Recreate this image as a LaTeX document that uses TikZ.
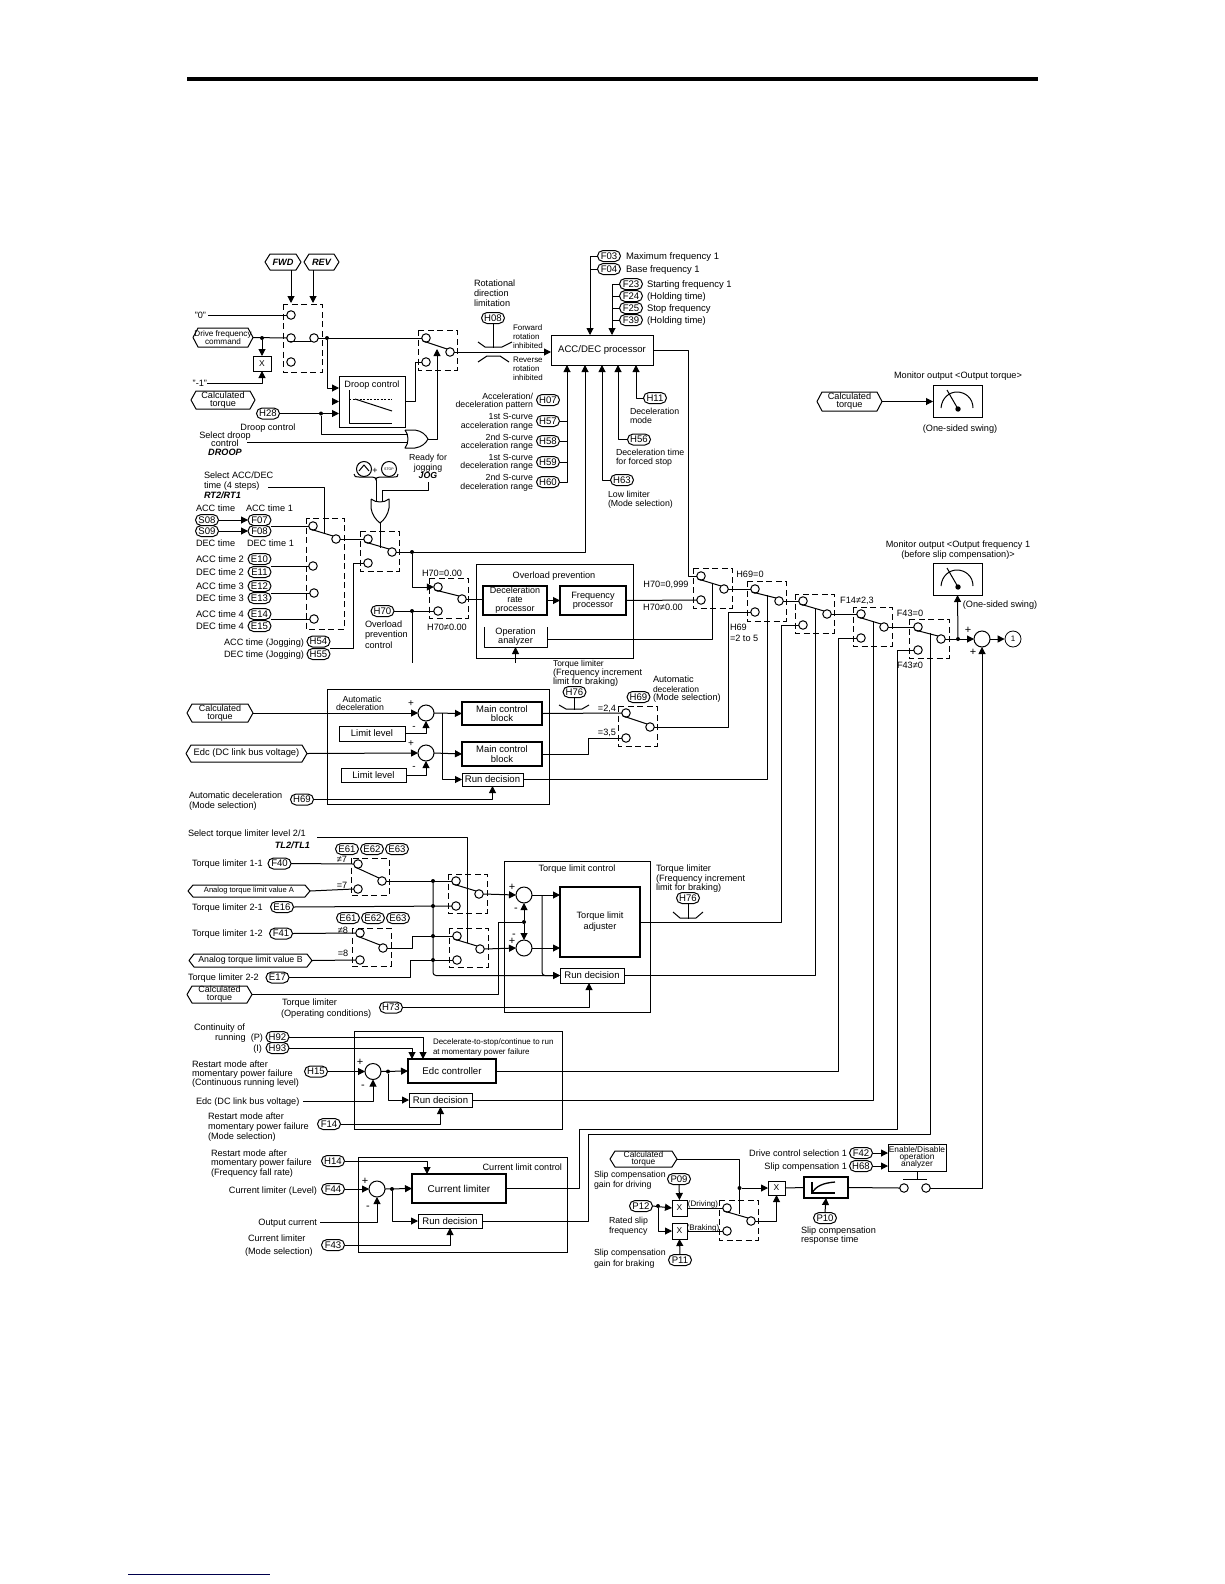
\documentclass[tikz,border=0pt]{standalone}
\usepackage{fontspec}
\setmainfont{Liberation Sans}
\usetikzlibrary{arrows.meta,calc,shapes.misc}
\newcounter{tcnt}
\newcommand\fs[1]{\fontsize{#1}{#1}\selectfont\setlength\baselineskip{1.1\baselineskip}}
\tikzset{x=1bp,y=-1bp,
 conn/.style={line width=1bp,line join=round},
 arr/.style={conn,-{Triangle[length=7bp,width=7bp]}},
 dbox/.style={line width=1bp,dash pattern=on 6bp off 3.5bp},
 lab/.style={inner sep=0pt,outer sep=0pt,text height=6.6bp,text depth=0pt},
 term/.style={circle,draw,fill=white,minimum size=8.5bp,inner sep=0pt,outer sep=0pt,line width=1bp},
 sumc/.style={circle,draw,fill=white,minimum size=16bp,inner sep=0pt,outer sep=0pt,line width=1bp},
 oval/.style={rounded rectangle,draw,fill=white,minimum width=23bp,minimum height=11bp,inner sep=0pt,outer sep=0pt,line width=1bp,font=\fs{9.6}},
 blk/.style={draw,fill=white,inner sep=0pt,outer sep=0pt,line width=1bp,align=center},
 blkb/.style={blk,line width=2bp},
 plainb/.style={inner sep=0pt,outer sep=0pt,align=center},
 frame/.style={draw,line width=1bp,inner sep=0pt,outer sep=0pt},
 dotn/.style={circle,fill=black,minimum size=4bp,inner sep=0pt,outer sep=0pt},
}
\newcommand\Tl[4][9.2]{\stepcounter{tcnt}\node[lab,anchor=west] (tx\arabic{tcnt}) at (#2,#3) {\fs{#1}#4};}
\newcommand\Tr[4][9.2]{\stepcounter{tcnt}\node[lab,anchor=east] (tx\arabic{tcnt}) at (#2,#3) {\fs{#1}#4};}
\newcommand\Tc[4][9.2]{\stepcounter{tcnt}\node[lab,anchor=center] (tx\arabic{tcnt}) at (#2,#3) {\fs{#1}#4};}
\newcommand\Ov[4]{\node[oval] (#1) at (#2,#3) {#4};}
\newcommand\Tm[3]{\node[term] (#1) at (#2,#3) {};}
\newcommand\Dt[3]{\node[dotn] (#1) at (#2,#3) {};}
\newcommand\Bx[7]{\node[#1,minimum width={(#5-#3)*1bp},minimum height={(#6-#4)*1bp}] (#2) at ({(#3+#5)/2},{(#4+#6)/2}) {#7};}
\newcommand\Hx[7]{\node[plainb,font=\fs{#6},minimum width={(#4-#2)*1bp},minimum height={(#5-#3)*1bp}] (#1) at ({(#2+#4)/2},{(#3+#5)/2}) {#7};
 \draw[conn] (#1.west) -- ($(#1.north west)+(5,0)$) -- ($(#1.north east)+(-5,0)$) -- (#1.east) -- ($(#1.south east)+(-5,0)$) -- ($(#1.south west)+(5,0)$) -- cycle;}
\newcommand\Arm[2]{\draw[conn] (#1.south west) -- (#2.north west);}
\newcommand\Mtr[2]{% box top-left offset
 \draw[conn,shift={(#1,#2)}] (8,23) .. controls (9,12) and (17,7) .. (24,7) .. controls (32,7) and (40,13) .. (40,23);
 \draw[conn,shift={(#1,#2)}] (14,5) -- (25,24);
 \fill[shift={(#1,#2)}] (25,24) circle (2.7);}
\begin{document}
\begin{tikzpicture}
\useasboundingbox (0,0) rectangle (1224,1584);
\fill[white] (0,0) rectangle (1224,1584);
\draw[line width=3.5bp] (187,79) -- (1038,79);
\draw[line width=0.8bp,color=black!70!blue] (128,1574) -- (270,1574);

%%%% top-left input section
\Hx{fwd}{265}{254}{301}{270}{9.2}{\bfseries\itshape FWD}
\Hx{rev}{304}{254}{339}{270}{9.2}{\bfseries\itshape REV}
\draw[dbox] (283,304) rectangle (322,372);
\Tm{a0}{291}{315}\Tm{a1}{291}{338}\Tm{a2}{291}{362}\Tm{aout}{314}{338}
\draw[arr] ([xshift=8bp]fwd.south) -- ++(0,33);
\draw[arr] ([xshift=-8.5bp]rev.south) -- ++(0,33);
\node[lab,anchor=east] (lz) at (206,315) {\fs{9.2}"0"};
\draw[conn] (lz.east) ++(2,0) -- (a0.west);
\Hx{drv}{193}{328}{253}{347}{8.2}{Drive frequency\\[-1pt]command}
\Dt{dA}{262}{338}
\draw[conn] (drv.east) -- (a1.west);
\draw[conn] (a1.south west) -- (aout.south west);
\Bx{blk,font=\fs{8.5}}{xA}{253}{356}{271}{371}{X}
\draw[arr] (dA) -- (xA.north);
\node[lab,anchor=east] (lm) at (207,383) {\fs{9.2}"-1"};
\draw[arr] (lm.east) -| (xA.south);
\Hx{cta}{191}{391}{255}{409}{9.2}{Calculated\\[-2pt]torque}
\Dt{dB}{327}{338}
\draw[dbox] (418,330) rectangle (457,370);
\Tm{b0}{426}{338}\Tm{b1}{426}{362}\Tm{bout}{450}{352}
\draw[conn] (aout.east) -- (b0.west);
\Arm{b0}{bout}
\Bx{blk}{droop}{339}{376}{405}{427}{}
\Tc[9.2]{372}{384}{Droop control}
\draw[conn] (349,390) -- (349,423) -- (392,423);
\draw[conn,dash pattern=on 2bp off 1.5bp] (349,399) -- (392,399);
\draw[conn] (355,399) -- (392,411);
\draw[arr] (dB) |- ([yshift=13.5bp]droop.west);
\draw[arr] ([xshift=-6bp]droop.west) -- (droop.west);
\Ov{ovHb}{268}{413.5}{H28}
\Dt{dH}{321}{413.5}
\draw[arr] (ovHb.east) -- (droop.west |- ovHb);
\Tc{268}{427}{Droop control}
\Tc{225}{435}{Select droop}
\Tc{225}{443}{control}
\Tc{225}{452}{\bfseries\itshape DROOP}
\coordinate (orA) at (408,434);
\coordinate (orB) at (408,442);
\coordinate (orOut) at (428,439);
\coordinate (armB) at (437,349);
\coordinate (selD) at (247,442);
\draw[conn] (dH) |- (orA);
\draw[conn] (selD) -- (orB);
\draw[conn,fill=white] (405,430) -- (415,430) .. controls (422,431) and (426,435) .. (orOut) .. controls (426,443) and (422,447) .. (415,448) -- (405,448) .. controls (409,443) and (409,435) .. (405,430);
\draw[arr] (orOut) -| (armB);
\draw[conn] (droop.east) -- ++(10,0) |- (b1.west);

%%%% H08 and ACC/DEC processor
\Tl{474}{283}{Rotational}
\Tl{474}{293}{direction}
\Tl{474}{303}{limitation}
\Ov{ovHa}{493}{318}{H08}
\Bx{blk,font=\fs{9.6}}{acc}{551}{335}{653}{365}{ACC/DEC processor}
\draw[arr] (bout.east) -- (acc.west |- bout);
\draw[conn] (ovHa.south) -- ++(0,24);
\draw[conn] (478,342) -- (485,347) -- (502,347) -- (512,342);
\draw[conn] (478,362) -- (487,356) -- (500,356) -- (509,362);
\Tl[8]{513}{327}{Forward}
\Tl[8]{513}{336}{rotation}
\Tl[8]{513}{345}{inhibited}
\Tl[8]{513}{359}{Reverse}
\Tl[8]{513}{368}{rotation}
\Tl[8]{513}{377}{inhibited}
\Ov{ovFa}{609}{256}{F03}\Ov{ovFb}{609}{269}{F04}
\Tl[9.5]{626}{256}{Maximum frequency 1}
\Tl[9.5]{626}{269}{Base frequency 1}
\Ov{ovFc}{631}{284}{F23}\Ov{ovFd}{631}{296}{F24}\Ov{ovFe}{631}{308}{F25}\Ov{ovFf}{631}{320}{F39}
\Tl[9.5]{647}{284}{Starting frequency 1}
\Tl[9.5]{647}{296}{(Holding time)}
\Tl[9.5]{647}{308}{Stop frequency}
\Tl[9.5]{647}{320}{(Holding time)}
\coordinate (accTa) at (590,335);
\coordinate (accTb) at (612,335);
\draw[arr] (ovFa.west) -| (accTa);
\draw[conn] (ovFb.west) -- (ovFb.west -| accTa);
\draw[arr] (ovFc.west) -| (accTb);
\draw[conn] (ovFd.west) -- (ovFd.west -| accTb);
\draw[conn] (ovFe.west) -- (ovFe.west -| accTb);
\draw[conn] (ovFf.west) -- (ovFf.west -| accTb);
\coordinate (accBa) at (567,365);
\coordinate (accBb) at (585,365);
\coordinate (accBc) at (602,365);
\coordinate (accBd) at (618,365);
\coordinate (accBe) at (636,365);
\Ov{ovHg}{548}{400}{H07}\Ov{ovHh}{548}{421}{H57}\Ov{ovHi}{548}{441}{H58}\Ov{ovHj}{548}{462}{H59}\Ov{ovHk}{548}{482}{H60}
\Tr[8.8]{533}{396}{Acceleration/}
\Tr[8.8]{533}{404}{deceleration pattern}
\Tr[8.8]{533}{416}{1st S-curve}
\Tr[8.8]{533}{425}{acceleration range}
\Tr[8.8]{533}{437}{2nd S-curve}
\Tr[8.8]{533}{445}{acceleration range}
\Tr[8.8]{533}{457}{1st S-curve}
\Tr[8.8]{533}{465}{deceleration range}
\Tr[8.8]{533}{477}{2nd S-curve}
\Tr[8.8]{533}{486}{deceleration range}
\draw[arr] (ovHk.east) -| (accBa);
\draw[conn] (ovHh.east) -- (ovHh.east -| accBa);
\draw[conn] (ovHi.east) -- (ovHi.east -| accBa);
\draw[conn] (ovHj.east) -- (ovHj.east -| accBa);
\Ov{ovHl}{622}{480}{H63}
\draw[arr] (ovHl.west) -| (accBc);
\Tl[8.8]{608}{494}{Low limiter}
\Tl[8.8]{608}{503}{(Mode selection)}
\Ov{ovHm}{639}{439.5}{H56}
\draw[arr] (ovHm.west) -| (accBd);
\Tl[8.8]{616}{452}{Deceleration time}
\Tl[8.8]{616}{461}{for forced stop}
\Ov{ovHn}{655}{398}{H11}
\draw[arr] (ovHn.west) -| (accBe);
\Tl[8.8]{630}{411}{Deceleration}
\Tl[8.8]{630}{420}{mode}

%%%% monitor torque
\Hx{ctm}{817}{392}{882}{411}{9.2}{Calculated\\[-2pt]torque}
\Bx{blk}{mta}{933}{385}{982}{417}{}
\Mtr{933}{385}
\draw[arr] (ctm.east) -- (mta.west |- ctm);
\Tc{958}{375}{Monitor output <Output torque>}
\Tc{960}{428}{(One-sided swing)}

%%%% jog gate
\node[circle,draw,line width=1bp,minimum size=15bp,inner sep=0pt] (kup) at (364,469) {};
\draw[conn] (359,471) -- (364,465) -- (369,471);
\Tc[9]{375}{470}{+}
\node[circle,draw,line width=1bp,minimum size=15bp,inner sep=0pt,font=\fs{3.6}] (kst) at (389,469) {STOP};
\draw[conn] (354,474) .. controls (354,477) and (356,477) .. (359,477) -- (372,477) .. controls (375,477) and (376,478) .. (376,480) .. controls (376,478) and (377,477) .. (380,477) -- (394,477) .. controls (397,477) and (398,477) .. (398,474);
\Tc[8.8]{428}{457}{Ready for}
\Tc[8.8]{428}{467}{jogging}
\Tc[8.8]{428}{475}{\bfseries\itshape JOG}
\coordinate (brP) at (376,480);
\coordinate (brQ) at (376,502);
\coordinate (jgA) at (428,482);
\coordinate (jgB) at (382,490);
\coordinate (jgC) at (382,502);
\coordinate (gOut) at (380,523);
\draw[conn] (brP) -- (brQ);
\draw[conn] (jgA) |- (jgB) -- (jgC);
\draw[conn,fill=white] (371,499) -- (371,508) .. controls (372,515) and (376,520) .. (gOut) .. controls (384,520) and (388,515) .. (389,508) -- (389,499) .. controls (384,503) and (376,503) .. (371,499);

%%%% ACC time selector
\Tl{204}{475}{Select ACC/DEC}
\Tl{204}{485}{time (4 steps)}
\Tl{204}{495}{\bfseries\itshape RT2/RT1}
\Tl{196}{508}{ACC time}
\Tl{246}{508}{ACC time 1}
\Ov{ovSa}{207}{520}{S08}\Ov{ovSb}{207}{531}{S09}
\Ov{ovEa}{259.5}{520}{F07}\Ov{ovEb}{259.5}{531}{F08}
\draw[arr] (ovSa.east) -- (ovEa.west);
\draw[arr] (ovSb.east) -- (ovEb.west);
\Tl{196}{543}{DEC time}
\Tl{247}{543}{DEC time 1}
\Tl[9.4]{196}{559}{ACC time 2}\Ov{ovEc}{259.5}{559}{E10}
\Tl[9.4]{196}{572}{DEC time 2}\Ov{ovEd}{259.5}{572}{E11}
\Tl[9.4]{196}{586}{ACC time 3}\Ov{ovEe}{259.5}{586}{E12}
\Tl[9.4]{196}{598}{DEC time 3}\Ov{ovEf}{259.5}{598}{E13}
\Tl[9.4]{196}{614}{ACC time 4}\Ov{ovEg}{259.5}{614}{E14}
\Tl[9.4]{196}{626}{DEC time 4}\Ov{ovEh}{259.5}{626}{E15}
\draw[dbox] (306,518) rectangle (344,629);
\Tm{d0}{313}{526}\Tm{d1}{313}{566}\Tm{d2}{314}{593}\Tm{d3}{314}{619}\Tm{dout}{336}{539}
\coordinate (lnA) at (271,526);
\coordinate (lnB) at (271,566);
\coordinate (lnC) at (271,593);
\coordinate (lnD) at (271,619);
\draw[conn] (lnA) -- (d0.west);
\draw[conn] (lnB) -- (d1.west);
\draw[conn] (lnC) -- (d2.west);
\draw[conn] (lnD) -- (d3.west);
\Arm{d0}{dout}
\coordinate (selR) at (268,487);
\coordinate (armD) at (324,533);
\draw[conn] (selR) -| (armD);
\draw[dbox] (360,531) rectangle (399,571);
\Tm{j0}{368}{539}\Tm{j1}{368}{563}\Tm{jout}{392}{552}
\draw[conn] (dout.east) -- (j0.west);
\Arm{j0}{jout}
\coordinate (armJ) at (380,548);
\draw[conn] (gOut) -- (armJ);
\Tr{304}{642}{ACC time (Jogging)}\Ov{ovJa}{318.5}{641.5}{H54}
\Tr{304}{654}{DEC time (Jogging)}\Ov{ovJb}{318.5}{654}{H55}
\coordinate (jgL) at (330,648);
\draw[conn] (jgL) -- (353,648) |- (j1.west);
\Dt{dJ}{412}{552}
\draw[arr] (jout.east) -| (accBb);
\draw[dbox] (429,578) rectangle (468,618);
\Tm{h0}{438}{587}\Tm{h1}{438}{611}\Tm{hout}{462}{599}
\draw[arr] (dJ) |- (h0.west);
\Arm{h0}{hout}
\Tc{442}{573}{H70=0.00}
\Tc{447}{627}{H70≠0.00}
\Ov{ovHo}{382.5}{611}{H70}
\Dt{dHo}{412}{611}
\draw[conn] (ovHo.east) -- (h1.west);
\coordinate (hoE) at (412,663);
\draw[conn] (dHo) -- (hoE);
\Tl{365}{624}{Overload}
\Tl{365}{634}{prevention}
\Tl{365}{645}{control}

%%%% overload prevention
\Bx{frame}{olp}{476}{564}{633}{658}{}
\Tc{554}{575}{Overload prevention}
\Bx{blkb,font=\fs{9}}{dec}{483}{586}{547}{615}{Deceleration\\[-1pt]rate\\[-1pt]processor}
\Bx{blkb,font=\fs{9.2}}{frq}{560}{586}{626}{615}{Frequency\\[-1pt]processor}
\draw[arr] (dec.east) -- (frq.west);
\draw[conn] (hout.east) -- (dec.west |- hout);
\Bx{plainb,font=\fs{9.2}}{ana}{484}{627}{547}{647}{Operation\\[-1pt]analyzer}
\draw[conn] (ana.north west) -- (ana.south west) -- (ana.south east) -- (ana.north east);
\coordinate (anaI) at (515.5,663);
\draw[arr] (anaI) -- (ana.south);
\draw[dbox] (693,568) rectangle (732,608);
\Tm{c0}{701}{576}\Tm{c1}{701}{600}\Tm{cout}{724}{589}
\draw[conn] (acc.east) -- ++(35,0) |- (c0.west);
\draw[conn] (frq.east) -- (c1.west);
\Arm{c0}{cout}
\coordinate (armC) at (712,583);
\draw[conn] ([yshift=-2bp]ana.east) -| (armC);
\Tc{666}{584}{H70=0,999}
\Tc{663}{607}{H70≠0.00}

%%%% downstream switches
\draw[dbox] (747,581) rectangle (786,621);
\Tm{e0}{755}{589}\Tm{e1}{755}{612}\Tm{eout}{779}{601}
\draw[conn] (cout.east) -- (e0.west);
\Arm{e0}{eout}
\Tc{750}{574}{H69=0}
\Tl{730}{627}{H69}
\Tl{730}{638}{=2 to 5}
\draw[dbox] (795,594) rectangle (834,633);
\Tm{f0}{803}{601}\Tm{f1}{803}{625}\Tm{fout}{827}{614}
\draw[conn] (eout.east) -- (f0.west);
\Arm{f0}{fout}
\draw[dbox] (853,607) rectangle (892,646);
\Tm{g0}{861}{614}\Tm{g1}{861}{638}\Tm{gout}{884}{627}
\draw[conn] (fout.east) -- (g0.west);
\Arm{g0}{gout}
\Tc{857}{600}{F14≠2,3}
\draw[dbox] (909,619) rectangle (949,658);
\Tm{k0}{918}{627}\Tm{k1}{918}{650}\Tm{kout}{941}{639}
\draw[conn] (gout.east) -- (k0.west);
\Arm{k0}{kout}
\Tc{910}{613}{F43=0}
\Tc{910}{665}{F43≠0}
\node[sumc] (sm) at (982,639) {};
\node[circle,draw,line width=.8bp,minimum size=16bp,inner sep=0pt,font=\fs{8}] (oneC) at (1013,639) {1};
\Dt{dK}{958}{639}
\draw[arr] (kout.east) -- (sm.west);
\draw[arr] (sm.east) -- (oneC.west);
\Tc[11]{968}{630}{+}
\Tc[11]{973}{652}{+}
\Bx{blk}{mtb}{933}{563}{982}{595}{}
\Mtr{933}{563}
\draw[arr] (dK) -- (mtb.south);
\Tc{958}{544}{Monitor output <Output frequency 1}
\Tc{958}{554}{(before slip compensation)>}
\Tc{1000}{604}{(One-sided swing)}

%%%% automatic deceleration
\Bx{frame}{adc}{327}{689}{549}{804}{}
\Hx{cts}{187}{704}{253}{722}{9}{Calculated\\[-2pt]torque}
\Hx{edcA}{186}{745}{307}{762}{9.4}{Edc (DC link bus voltage)}
\Tc[8.8]{362}{699}{Automatic}
\Tc[8.8]{360}{707}{deceleration}
\node[sumc] (sa) at (426,713) {};
\node[sumc] (sb) at (426,753) {};
\Tc[10]{411}{703}{+}\Tc[10]{414}{726}{-}\Tc[10]{411}{743}{+}\Tc[10]{414}{766}{-}
\Bx{blk,font=\fs{9.5}}{lma}{339}{726}{405}{741}{Limit level}
\Bx{blk,font=\fs{9.5}}{lmb}{341}{768}{406}{782}{Limit level}
\draw[arr] (cts.east) -- (sa.west);
\draw[arr] (edcA.east) -- (sb.west);
\draw[arr] (lma.east) -| (sa.south);
\draw[arr] (lmb.east) -| (sb.south);
\Bx{blkb,font=\fs{9.5}}{mca}{462}{702}{542}{725}{Main control\\[-1pt]block}
\Bx{blkb,font=\fs{9.5}}{mcb}{462}{742}{542}{766}{Main control\\[-1pt]block}
\Bx{blk,font=\fs{9.6}}{rda}{462}{773}{523}{786}{Run decision}
\draw[arr] (sa.east) -- (mca.west);
\draw[arr] (sb.east) -- (mcb.west);
\coordinate (jA) at (442,713);
\draw[arr] (jA) |- (rda.west);
\Tl{189}{795}{Automatic deceleration}
\Tl{189}{805}{(Mode selection)}
\Ov{ovHp}{302}{799.5}{H69}
\draw[arr] (ovHp.east) -| (rda.south);
\draw[dbox] (618,706) rectangle (657,746);
\Tm{m0}{626}{713}\Tm{m1}{626}{738}\Tm{mout}{650}{727}
\draw[conn] (mca.east) -- (m0.west);
\draw[conn] (mcb.east) -- ++(46,0) |- (m1.west);
\Arm{m0}{mout}
\draw[conn] (mout.east) -- ++(74,0) |- (e1.west);
\coordinate (armE) at (767,595);
\draw[conn] (rda.east) -| (armE);
\Tl[8.5]{553}{663}{Torque limiter}
\Tl{553}{672}{(Frequency increment}
\Tl{553}{681}{limit for braking)}
\Ov{ovHq}{574.5}{692}{H76}
\draw[conn] (ovHq.south) -- ++(0,12);
\draw[conn] (559,705) -- (566,709) -- (582,709) -- (589,705);
\Tl{653}{679}{Automatic}
\Tl[8.5]{653}{689}{deceleration}
\Tl{653}{697}{(Mode selection)}
\Ov{ovHr}{638.5}{697}{H69}
\Tc{607}{708}{=2,4}
\Tc{607}{732}{=3,5}

%%%% torque limit
\node[lab,anchor=west] (slT) at (188,833) {\fs{9.2}Select torque limiter level 2/1};
\Tr{310}{845}{\bfseries\itshape TL2/TL1}
\Ov{ovTa}{347}{849}{E61}\Ov{ovTb}{372}{849}{E62}\Ov{ovTc}{397}{849}{E63}
\Ov{ovTd}{348}{918}{E61}\Ov{ovTe}{373}{918}{E62}\Ov{ovTf}{398}{918}{E63}
\Tl{192}{863}{Torque limiter 1-1}\Ov{ovGa}{279.5}{863.5}{F40}
\Tl{192}{907}{Torque limiter 2-1}\Ov{ovGb}{282}{907}{E16}
\Tl{192}{933}{Torque limiter 1-2}\Ov{ovGc}{281}{933.5}{F41}
\Tl{188}{977}{Torque limiter 2-2}\Ov{ovGd}{277.5}{977.5}{E17}
\Hx{hxA}{188}{885}{310}{897}{7.6}{Analog torque limit value A}
\Hx{hxB}{189}{954}{312}{967}{8.8}{Analog torque limit value B}
\Hx{hxC}{187}{986}{252}{1003}{9}{Calculated\\[-2pt]torque}
\draw[dbox] (351,858) rectangle (389,895);
\Tm{n0}{358}{864}\Tm{n1}{358}{889}\Tm{nout}{382}{881}
\draw[conn] (ovGa.east) -- (n0.west);
\draw[conn] (hxA.east) -- (n1.west);
\Arm{n0}{nout}
\Tc{342}{859}{≠7}\Tc{342}{885}{=7}
\draw[dbox] (352,928) rectangle (391,966);
\Tm{p0}{360}{933}\Tm{p1}{360}{960}\Tm{pout}{383}{948}
\draw[conn] (ovGc.east) -- (p0.west);
\draw[conn] (hxB.east) -- (p1.west);
\Arm{p0}{pout}
\Tc{343}{930}{≠8}\Tc{343}{953}{=8}
\draw[dbox] (448,874) rectangle (487,913);
\Tm{q0}{456}{881}\Tm{q1}{456}{906}\Tm{qout}{479}{894}
\draw[dbox] (449,928) rectangle (488,967);
\Tm{r0}{457}{936}\Tm{r1}{457}{960}\Tm{rout}{480}{949}
\Arm{q0}{qout}
\Arm{r0}{rout}
\draw[conn] (nout.east) -- (q0.west);
\draw[conn] (ovGb.east) -- (q1.west);
\draw[conn] (pout.east) -- ++(25,0) |- (r0.west);
\draw[conn] (ovGd.east) -- ++(121,0) |- (r1.west);
\coordinate (slE) at (317,837);
\coordinate (armR) at (467,943);
\draw[conn] (slE) -| (armR);
\Dt{rla}{433}{881}\Dt{rlb}{433}{906}\Dt{rlc}{433}{936}\Dt{rld}{433}{960}
\Bx{frame}{tlc}{504}{861}{650}{1012}{}
\Tc{577}{868}{Torque limit control}
\node[sumc] (sc) at (524,895) {};
\node[sumc] (sd) at (524,948) {};
\Tc[11]{512}{887}{+}\Tc[11]{516}{908}{-}\Tc[11]{514}{934}{-}\Tc[11]{512}{941}{+}
\Bx{blkb,font=\fs{9.2}}{adj}{560}{887}{640}{957}{Torque limit\\[1pt]adjuster}
\Bx{blk,font=\fs{9.6}}{rdb}{560}{968}{624}{983}{Run decision}
\draw[arr] (qout.east) -- (sc.west);
\draw[arr] (rout.east) -- (sd.west);
\Dt{dS}{524}{922}
\draw[arr] (dS) -- (sc.south);
\draw[arr] (dS) -- (sd.north);
\draw[conn] (hxC.east) -- ++(246,0) |- (dS);
\draw[arr] (sc.east) -- (adj.west |- sc);
\draw[arr] (sd.east) -- (adj.west |- sd);
\coordinate (jB) at (542,895);
\draw[arr,rounded corners=3bp] (jB) |- (rdb.west);
\draw[arr,rounded corners=3bp] (rla) |- (rdb.west);
\Tl{282}{1002}{Torque limiter}
\Tl{281}{1013}{(Operating conditions)}
\Ov{ovHs}{391}{1007.5}{H73}
\draw[arr] (ovHs.east) -| ([xshift=-3bp]rdb.south);
\Tl{656}{868}{Torque limiter}
\Tl{656}{878}{(Frequency increment}
\Tl{656}{887}{limit for braking)}
\Ov{ovHt}{688}{898}{H76}
\draw[conn] (ovHt.south) -- ++(0,15);
\draw[conn] (673,912) -- (680,918) -- (696,918) -- (703,912);
\draw[conn] (adj.east) -- ++(141,0) |- (f1.west);
\coordinate (armF) at (815,608);
\draw[conn] (rdb.east) -| (armF);

%%%% Edc control
\Bx{frame}{edb}{354}{1031}{562}{1129}{}
\Tr{245}{1027}{Continuity of}
\Tr{263}{1037}{running\ \ (P)}
\Tr{262}{1048}{(I)}
\Ov{ovCa}{277.5}{1037}{H92}\Ov{ovCb}{277.5}{1048}{H93}
\Tl[8]{433}{1041}{Decelerate-to-stop/continue to run}
\Tl[8]{433}{1051}{at momentary power failure}
\Bx{blkb,font=\fs{9.7}}{edcC}{408}{1059}{496}{1083}{Edc controller}
\Bx{blk,font=\fs{9.6}}{rdc}{409}{1093}{472}{1107}{Run decision}
\coordinate (edTa) at (423,1059);
\coordinate (edTb) at (412,1059);
\draw[arr] (ovCa.east) -| (edTa);
\draw[arr] (ovCb.east) -| (edTb);
\Tl{192}{1064}{Restart mode after}
\Tl{192}{1073}{momentary power failure}
\Tl{192}{1082}{(Continuous running level)}
\Ov{ovCc}{316}{1071.5}{H15}
\node[sumc] (se) at (373,1071.5) {};
\Tc[11]{360}{1062}{+}\Tc[11]{363}{1085}{-}
\draw[arr] (ovCc.east) -- (se.west);
\Dt{dE}{388}{1071.5}
\draw[arr] (se.east) -- (edcC.west);
\draw[arr] (dE) |- (rdc.west);
\node[lab,anchor=west] (edL) at (196,1101) {\fs{9.2}Edc (DC link bus voltage)};
\draw[arr] ([xshift=4bp]edL.east) -| (se.south);
\Tl{208}{1116}{Restart mode after}
\Tl{208}{1126}{momentary power failure}
\Tl{208}{1136}{(Mode selection)}
\Ov{ovCd}{329}{1124}{F14}
\draw[arr] (ovCd.east) -| (rdc.south);
\draw[conn] (edcC.east) -- ++(342,0) |- (g1.west);
\coordinate (armG) at (873,621);
\draw[conn] (rdc.east) -| (armG);

%%%% current limit
\Bx{frame}{clb}{358}{1157}{567}{1252}{}
\Tr{562}{1167}{Current limit control}
\Tl{211}{1153}{Restart mode after}
\Tl{211}{1162}{momentary power failure}
\Tl{211}{1172}{(Frequency fall rate)}
\Ov{ovDa}{333}{1161}{H14}
\Bx{blkb,font=\fs{10}}{cur}{412}{1174}{506}{1203}{Current limiter}
\Bx{blk,font=\fs{9.6}}{rdd}{418}{1214}{482}{1228}{Run decision}
\coordinate (curT) at (427,1174);
\draw[arr] (ovDa.east) -| (curT);
\Tr{317}{1190}{Current limiter (Level)}
\Ov{ovDb}{333}{1189}{F44}
\node[sumc] (sf) at (377,1189) {};
\Tc[11]{365}{1181}{+}\Tc[11]{368}{1206}{-}
\draw[arr] (ovDb.east) -- (sf.west);
\Dt{dF}{392}{1189}
\draw[arr] (sf.east) -- (cur.west);
\draw[arr] (dF) |- (rdd.west);
\node[lab,anchor=east] (ocL) at (317,1222) {\fs{9.2}Output current};
\draw[arr] ([xshift=3bp]ocL.east) -| (sf.south);
\Tl{248}{1238}{Current limiter}
\Tl{245}{1251}{(Mode selection)}
\Ov{ovDc}{333}{1245}{F43}
\draw[arr] (ovDc.east) -| (rdd.south);
\coordinate (kA) at (579,1129);
\coordinate (kB) at (897,1129);
\draw[conn] (cur.east) -| (kA) -- (kB) |- (k1.west);
\coordinate (kC) at (588,1134);
\coordinate (kD) at (930,1134);
\coordinate (armK) at (930,633);
\draw[conn] (rdd.east) -| (kC) -- (kD) -- (armK);

%%%% slip compensation
\Hx{hxS}{610}{1151}{677}{1167}{8.4}{Calculated\\[-2pt]torque}
\Tl[8.8]{594}{1174}{Slip compensation}
\Tl[8.8]{594}{1184}{gain for driving}
\Tl[8.8]{609}{1220}{Rated slip}
\Tl[8.8]{609}{1230}{frequency}
\Tl[8.8]{594}{1252}{Slip compensation}
\Tl[8.8]{594}{1263}{gain for braking}
\Ov{ovPa}{679}{1179}{P09}
\Ov{ovPb}{641}{1206}{P12}
\Ov{ovPc}{680}{1260}{P11}
\Bx{blk,font=\fs{8.5}}{xB}{672}{1200}{687}{1216}{X}
\Bx{blk,font=\fs{8.5}}{xC}{672}{1223}{687}{1239}{X}
\Dt{dP}{658}{1206}
\draw[arr] (ovPa.south) -- (xB.north);
\draw[arr] (ovPc.north) -- (xC.south);
\draw[arr] (ovPb.east) -- (xB.west);
\draw[arr] (dP) |- (xC.west);
\Tc[8]{703}{1203}{(Driving)}
\Tc[8]{703}{1227}{(Braking)}
\draw[dbox] (719,1200) rectangle (758,1240);
\Tm{w0}{727}{1208}\Tm{w1}{727}{1231}\Tm{wout}{751}{1221}
\draw[conn] (xB.east) -- (w0.west);
\draw[conn] (xC.east) -- (w1.west);
\Arm{w0}{wout}
\Bx{blk,font=\fs{8.5}}{xD}{768}{1181}{785}{1195}{X}
\Dt{dQ}{739.5}{1188}
\coordinate (armW) at (739.5,1214);
\draw[conn] (hxS.east) -| (dQ);
\draw[conn] (dQ) -- (armW);
\draw[arr] (dQ) -- (xD.west);
\draw[arr] (wout.east) -| (xD.south);
\Bx{blkb}{flt}{804}{1177}{848}{1198}{}
\draw[line width=1.3bp] (812,1182) -- (812,1193) -- (835,1193);
\draw[line width=1.3bp] (812,1193) .. controls (816,1186) and (823,1183) .. (835,1182);
\draw[conn] (xD.east) -- (flt.west);
\Ov{ovPd}{825}{1218}{P10}
\draw[arr] (ovPd.north) -- (flt.south);
\Tl{801}{1230}{Slip compensation}
\Tl{801}{1239}{response time}
\Tm{t0}{904}{1188}\Tm{t1}{926}{1188}
\draw[conn] (flt.east) -- (t0.west);
\draw[arr] (t1.east) -| (sm.south);
\Bx{blk,font=\fs{8.4}}{en}{888}{1144}{946}{1171}{Enable/Disable\\[-2pt]operation\\[-2pt]analyzer}
\draw[conn] (en.south) -- ++(0,8);
\draw[conn] (903,1179) -- (927,1179);
\Tr{847}{1153}{Drive control selection 1}
\Tr{847}{1166}{Slip compensation 1}
\Ov{ovPe}{861}{1153}{F42}
\Ov{ovPf}{861}{1166}{H68}
\draw[arr] (ovPe.east) -- (en.west |- ovPe);
\draw[arr] (ovPf.east) -- (en.west |- ovPf);
\end{tikzpicture}
\end{document}
